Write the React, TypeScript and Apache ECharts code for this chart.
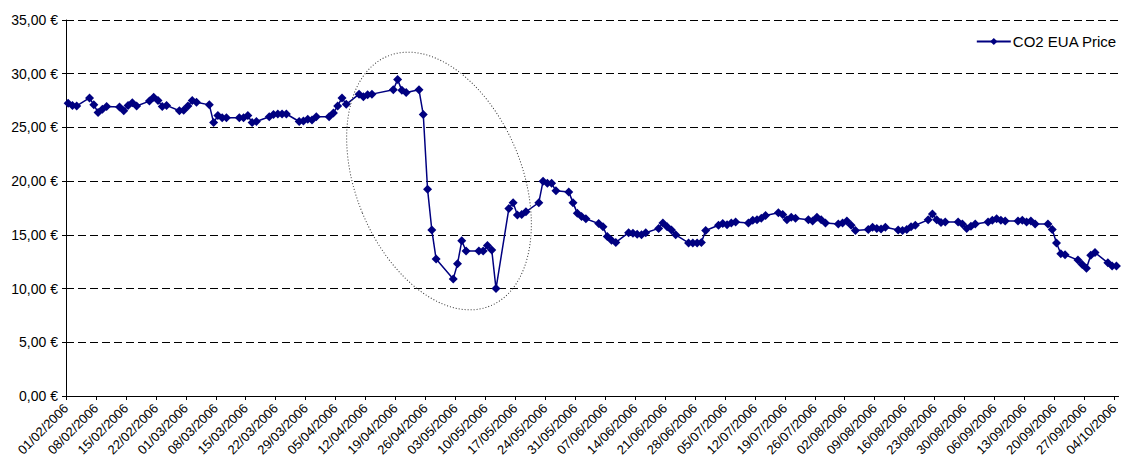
import React, { useEffect, useRef } from "react";
import * as echarts from "echarts";

// Trading dates (dd/mm, 2006)
const tradeDates: string[] = [
  "01/02", "02/02", "03/02", "06/02", "07/02", "08/02", "09/02", "10/02",
  "13/02", "14/02", "15/02", "16/02", "17/02", "20/02", "21/02", "22/02",
  "23/02", "24/02", "27/02", "28/02",
  "01/03", "02/03", "03/03", "06/03", "07/03", "08/03", "09/03", "10/03",
  "13/03", "14/03", "15/03", "16/03", "17/03", "20/03", "21/03", "22/03",
  "23/03", "24/03", "27/03", "28/03", "29/03", "30/03", "31/03",
  "03/04", "04/04", "05/04", "06/04", "07/04", "10/04", "11/04", "12/04",
  "13/04", "18/04", "19/04", "20/04", "21/04", "24/04", "25/04", "26/04",
  "27/04", "28/04",
  "02/05", "03/05", "04/05", "05/05", "08/05", "09/05", "10/05", "11/05",
  "12/05", "15/05", "16/05", "17/05", "18/05", "19/05", "22/05", "23/05",
  "24/05", "25/05", "26/05", "29/05", "30/05", "31/05",
  "01/06", "02/06", "05/06", "06/06", "07/06", "08/06", "09/06", "12/06",
  "13/06", "14/06", "15/06", "16/06", "19/06", "20/06", "21/06", "22/06",
  "23/06", "26/06", "27/06", "28/06", "29/06", "30/06",
  "03/07", "04/07", "05/07", "06/07", "07/07", "10/07", "11/07", "12/07",
  "13/07", "14/07", "17/07", "18/07", "19/07", "20/07", "21/07", "24/07",
  "25/07", "26/07", "27/07", "28/07", "31/07",
  "01/08", "02/08", "03/08", "04/08", "07/08", "08/08", "09/08", "10/08",
  "11/08", "14/08", "15/08", "16/08", "17/08", "18/08", "21/08", "22/08",
  "23/08", "24/08", "25/08", "28/08", "29/08", "30/08", "31/08",
  "01/09", "04/09", "05/09", "06/09", "07/09", "08/09", "11/09", "12/09",
  "13/09", "14/09", "15/09", "18/09", "19/09", "20/09", "21/09", "22/09",
  "25/09", "26/09", "27/09", "28/09", "29/09",
  "02/10", "03/10", "04/10",
];

// CO2 EUA Price (€)
const prices: number[] = [
  27.25, 27.05, 27.0, 27.75, 27.1, 26.4, 26.7, 26.95,
  26.9, 26.55, 27.05, 27.3, 27.0, 27.45, 27.8, 27.5,
  26.95, 27.05, 26.55, 26.6,
  27.0, 27.5, 27.35, 27.1, 25.45, 26.1, 25.9, 25.9,
  25.9, 25.9, 26.1, 25.45, 25.55, 26.0, 26.2, 26.25,
  26.25, 26.25, 25.55, 25.6, 25.75, 25.7, 26.0,
  26.0, 26.35, 27.0, 27.75, 27.15, 28.1, 27.85, 28.05,
  28.1, 28.5, 29.45, 28.45, 28.25, 28.5, 26.2, 19.25,
  15.45, 12.75,
  10.9, 12.3, 14.45, 13.5, 13.5, 13.5, 14.0, 13.6,
  10.0, 17.45, 18.0, 16.85, 16.9, 17.15, 18.0, 20.0,
  19.8, 19.8, 19.1, 19.0, 18.0, 17.0,
  16.7, 16.5, 16.05, 15.75, 14.85, 14.5, 14.3, 15.2,
  15.15, 15.05, 15.0, 15.2, 15.6, 16.1, 15.75, 15.45,
  15.0, 14.25, 14.25, 14.25, 14.3, 15.4,
  15.9, 16.05, 15.95, 16.1, 16.2, 16.1, 16.35, 16.4,
  16.55, 16.8, 17.05, 16.9, 16.4, 16.65, 16.55, 16.4,
  16.3, 16.65, 16.4, 16.1, 16.0,
  16.1, 16.3, 15.9, 15.4, 15.5, 15.7, 15.6, 15.55,
  15.7, 15.45, 15.4, 15.5, 15.75, 15.9, 16.4, 16.95,
  16.4, 16.15, 16.2, 16.2, 16.0, 15.6, 15.8,
  16.0, 16.2, 16.35, 16.5, 16.35, 16.3, 16.3, 16.35,
  16.2, 16.3, 16.0, 16.0, 15.5, 14.25, 13.25, 13.15,
  12.65, 12.25, 11.9, 13.1, 13.35,
  12.4, 12.1, 12.1,
];

// Weekly x-axis tick labels
const weekLabels: string[] = [
  "01/02/2006", "08/02/2006", "15/02/2006", "22/02/2006", "01/03/2006",
  "08/03/2006", "15/03/2006", "22/03/2006", "29/03/2006", "05/04/2006",
  "12/04/2006", "19/04/2006", "26/04/2006", "03/05/2006", "10/05/2006",
  "17/05/2006", "24/05/2006", "31/05/2006", "07/06/2006", "14/06/2006",
  "21/06/2006", "28/06/2006", "05/07/2006", "12/07/2006", "19/07/2006",
  "26/07/2006", "02/08/2006", "09/08/2006", "16/08/2006", "23/08/2006",
  "30/08/2006", "06/09/2006", "13/09/2006", "20/09/2006", "27/09/2006",
  "04/10/2006",
];

const seriesName = "CO2 EUA Price";
const FONT = "'Liberation Sans', Arial, sans-serif";

export default function App() {
  const ref = useRef<HTMLDivElement>(null);
  useEffect(() => {
    const chart = echarts.init(ref.current!, null, { renderer: "svg" });
    const base = Date.UTC(2006, 1, 1);
    const data = tradeDates.map((d, i) => {
      const [dd, mm] = d.split("/").map(Number);
      const day = (Date.UTC(2006, mm - 1, dd) - base) / 86400000;
      return [day + 0.5, prices[i]];
    });
    const tickVals = weekLabels.map((_, i) => i * 7);
    chart.setOption({
      animation: false,
      backgroundColor: "#ffffff",
      grid: { left: 66, right: 2, top: 20, bottom: 71, containLabel: false },
      legend: {
        data: [seriesName],
        right: 4,
        top: 34,
        padding: 0,
        itemWidth: 34,
        itemHeight: 9,
        itemGap: 4,
        textStyle: { fontFamily: FONT, fontSize: 15, color: "#000", padding: [0, 0, 0, -3] },
      },
      xAxis: {
        type: "value",
        min: 0,
        max: 246,
        interval: 7,
        axisLine: { show: true, lineStyle: { color: "#000", width: 1 } },
        axisTick: {
          show: true,
          length: 4,
          customValues: tickVals,
          lineStyle: { color: "#000" },
        },
        axisLabel: {
          customValues: tickVals,
          rotate: 45,
          margin: 10,
          fontFamily: FONT,
          fontSize: 13,
          color: "#000",
          formatter: (v: number) => weekLabels[Math.round(v / 7)] ?? "",
        },
        splitLine: { show: false },
      },
      yAxis: {
        type: "value",
        min: 0,
        max: 35,
        interval: 5,
        axisLine: { show: true, lineStyle: { color: "#000", width: 1 } },
        axisTick: { show: true, length: 4, lineStyle: { color: "#000" } },
        axisLabel: {
          margin: 8,
          fontFamily: FONT,
          fontSize: 14,
          color: "#000",
          formatter: (v: number) => v.toFixed(2).replace(".", ",") + " €",
        },
        splitLine: {
          show: true,
          lineStyle: { color: "#000", width: 1, type: [8, 4] },
        },
      },
      graphic: [
        {
          type: "ellipse",
          x: 439,
          y: 181,
          rotation: 0.39,
          shape: { cx: 0, cy: 0, rx: 83, ry: 135 },
          style: { fill: "none", stroke: "#333", lineWidth: 1, lineDash: [1, 2] },
          silent: true,
          z: 10,
        },
      ],
      series: [
        {
          name: seriesName,
          type: "line",
          data,
          symbol: "diamond",
          symbolSize: 9,
          showAllSymbol: true,
          color: "#000080",
          lineStyle: { color: "#000080", width: 1.5 },
          itemStyle: { color: "#000080" },
        },
      ],
    });
    return () => chart.dispose();
  }, []);
  return (
    <div
      ref={ref}
      style={{ position: "absolute", left: 0, top: 0, width: 1121, height: 467 }}
    />
  );
}
